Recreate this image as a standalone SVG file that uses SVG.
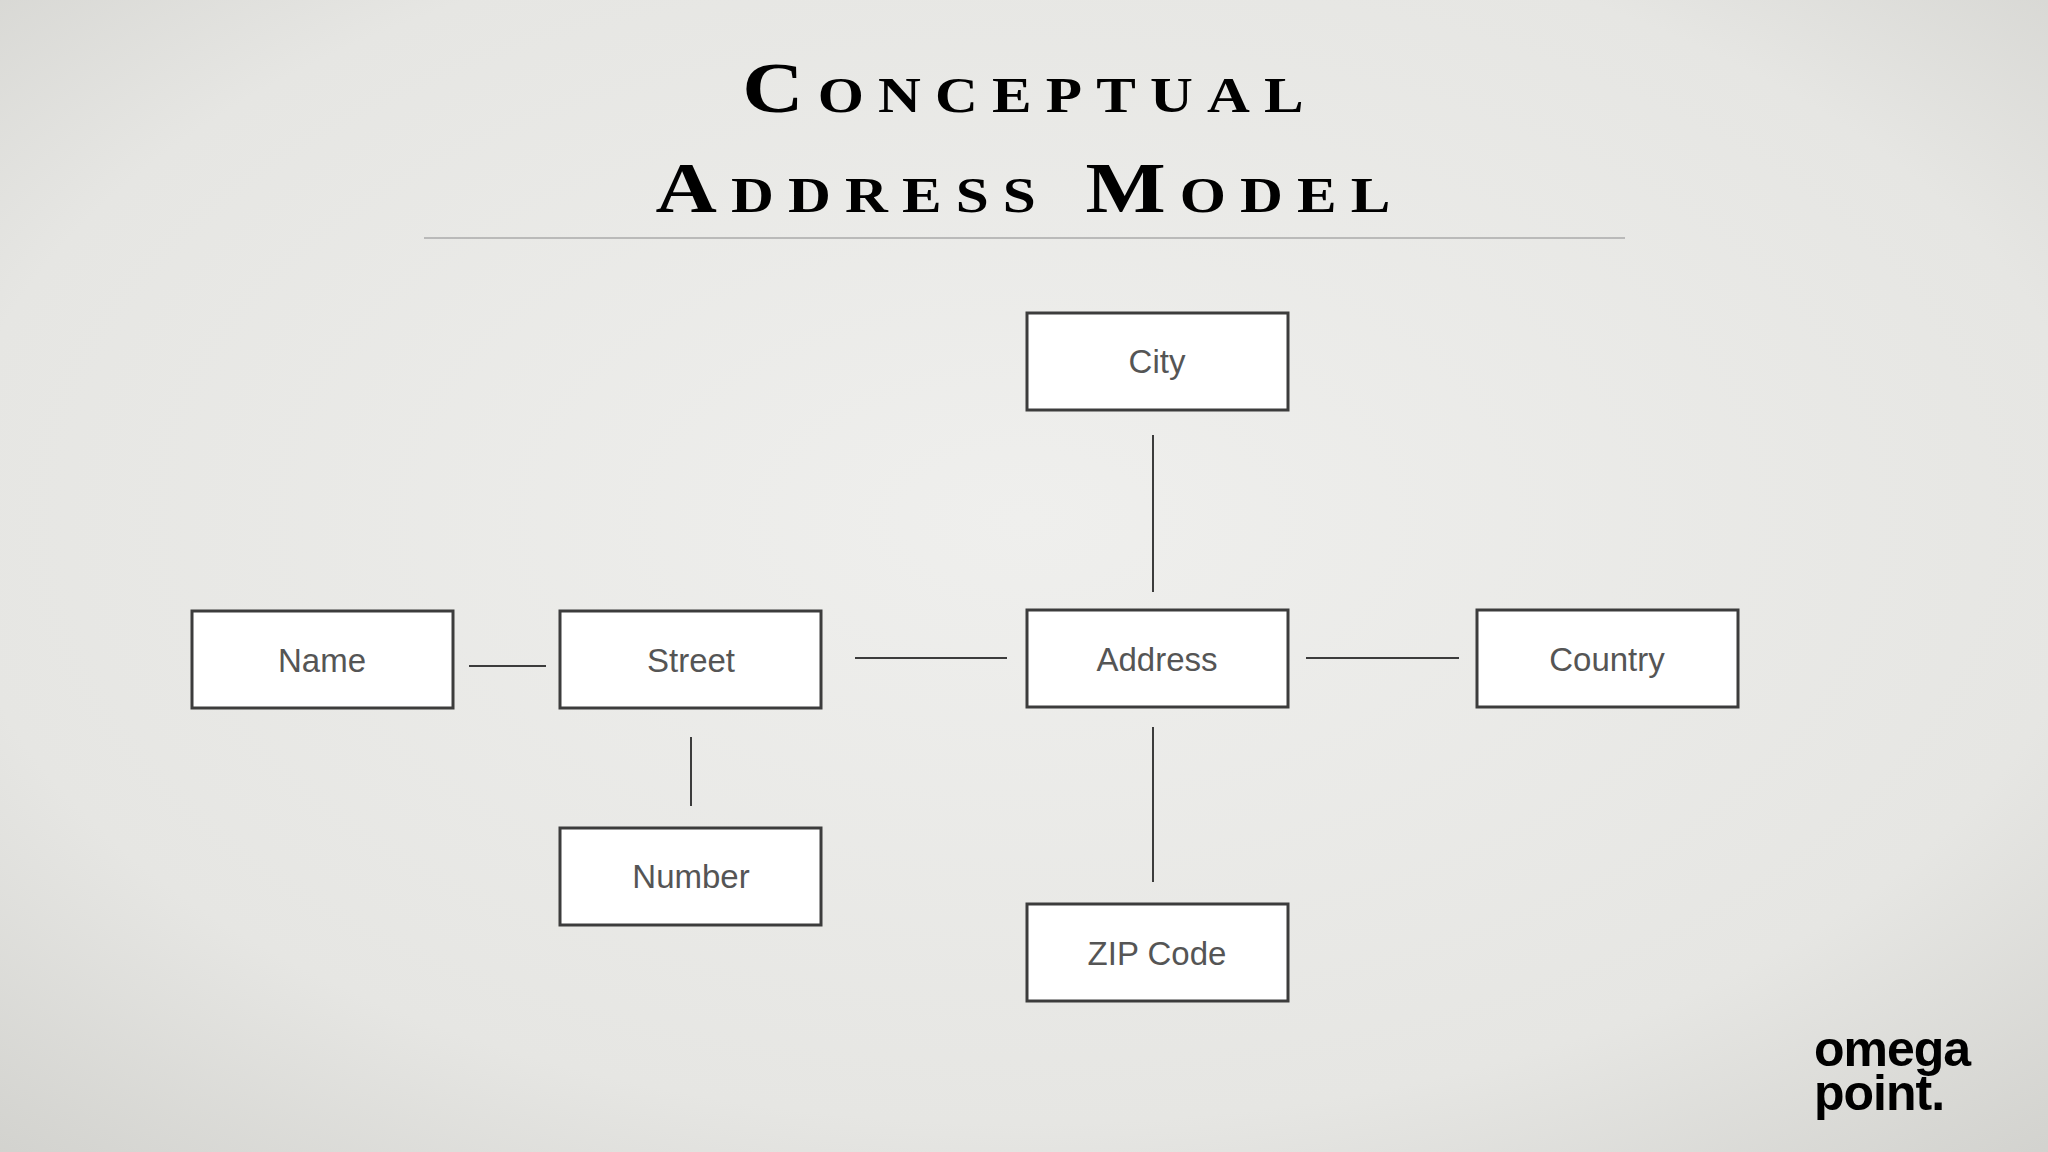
<svg xmlns="http://www.w3.org/2000/svg" width="2048" height="1152" viewBox="0 0 2048 1152">
<defs>
<radialGradient id="bg" cx="50%" cy="45%" r="75%">
<stop offset="0" stop-color="#efefed"/>
<stop offset="0.7" stop-color="#e6e6e3"/>
<stop offset="1" stop-color="#d2d2ce"/>
</radialGradient>
<style>
.box{fill:#fff;stroke:#3c3c3c;stroke-width:3}
.lbl{font-family:"Liberation Sans",Arial,sans-serif;font-size:33px;fill:#555;text-anchor:middle}
.con{stroke:#3c3c3c;stroke-width:2;fill:none}
.title{font-family:"Liberation Serif",serif;font-weight:bold;font-size:72px;font-variant:small-caps;letter-spacing:12px;fill:#000;text-anchor:middle}
.logo{font-family:"Liberation Sans",Arial,sans-serif;font-weight:bold;font-size:50px;fill:#000;letter-spacing:-1px}
</style>
</defs>
<rect width="2048" height="1152" fill="url(#bg)"/>
<g transform="translate(1030 0) scale(1.18 1)">
<text class="title" x="0" y="112">Conceptual</text>
<text class="title" x="0" y="212">Address Model</text>
</g>
<line x1="424" y1="238" x2="1625" y2="238" stroke="#aaa" stroke-width="1.5"/>
<g id="connectors">
<line class="con" x1="1153" y1="435" x2="1153" y2="592"/>
<line class="con" x1="469" y1="666" x2="546" y2="666"/>
<line class="con" x1="855" y1="658" x2="1007" y2="658"/>
<line class="con" x1="1306" y1="658" x2="1459" y2="658"/>
<line class="con" x1="691" y1="737" x2="691" y2="806"/>
<line class="con" x1="1153" y1="727" x2="1153" y2="882"/>
</g>
<g id="city"><rect class="box" x="1027" y="313" width="261" height="97"/><text class="lbl" x="1157" y="373">City</text></g>
<g id="name"><rect class="box" x="192" y="611" width="261" height="97"/><text class="lbl" x="322" y="672">Name</text></g>
<g id="street"><rect class="box" x="560" y="611" width="261" height="97"/><text class="lbl" x="691" y="672">Street</text></g>
<g id="address"><rect class="box" x="1027" y="610" width="261" height="97"/><text class="lbl" x="1157" y="671">Address</text></g>
<g id="country"><rect class="box" x="1477" y="610" width="261" height="97"/><text class="lbl" x="1607" y="671">Country</text></g>
<g id="number"><rect class="box" x="560" y="828" width="261" height="97"/><text class="lbl" x="691" y="888">Number</text></g>
<g id="zip"><rect class="box" x="1027" y="904" width="261" height="97"/><text class="lbl" x="1157" y="965">ZIP Code</text></g>
<g id="logo">
<text class="logo" x="1814" y="1066">omega</text>
<text class="logo" x="1814" y="1110">point.</text>
</g>
</svg>
